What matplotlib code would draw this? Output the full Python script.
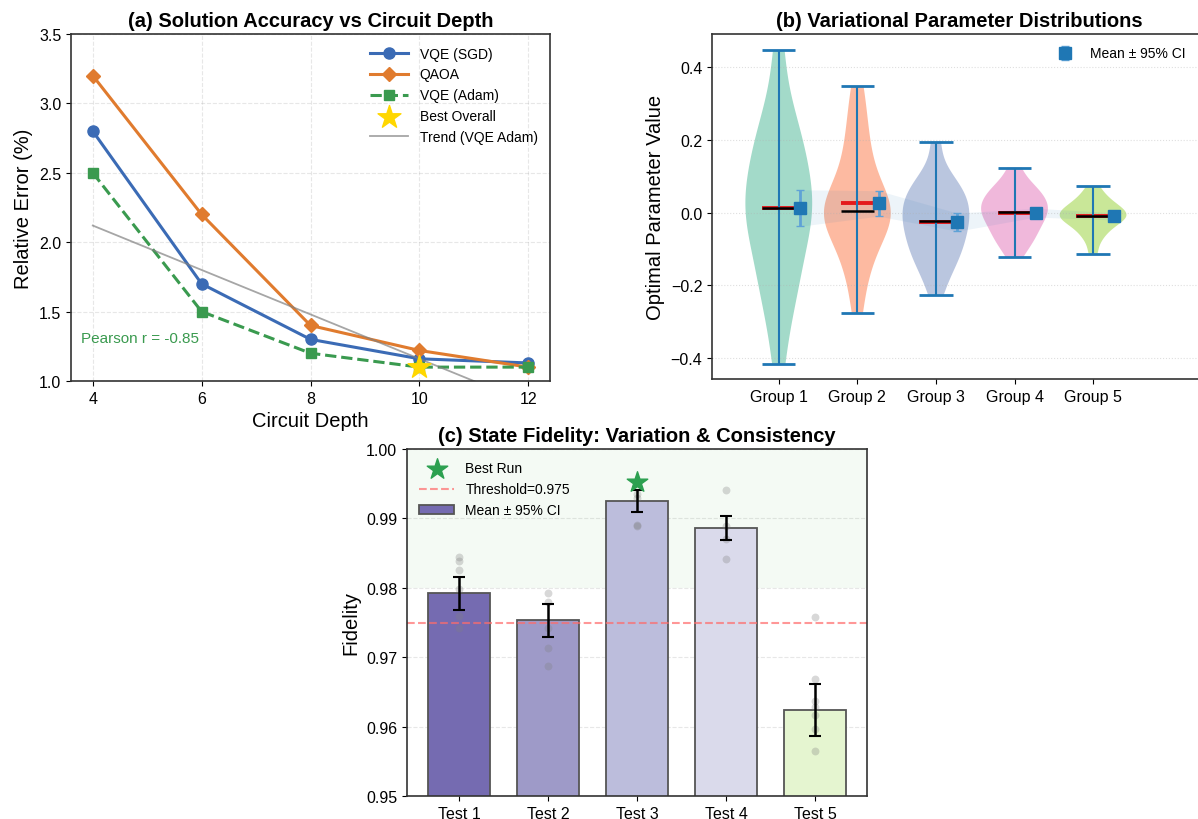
import numpy as np
import matplotlib.pyplot as plt

plt.rcParams['font.family'] = ['Liberation Sans', 'DejaVu Sans']
plt.rcParams['axes.edgecolor'] = '#333333'
plt.rcParams['axes.linewidth'] = 1.2
plt.rcParams['xtick.labelsize'] = 11.5
plt.rcParams['ytick.labelsize'] = 11.5

# (a) accuracy vs depth
depth = [4, 6, 8, 10, 12]
vqe_sgd = [2.8, 1.7, 1.3, 1.16, 1.13]
qaoa = [3.2, 2.2, 1.4, 1.22, 1.10]
vqe_adam = [2.5, 1.5, 1.2, 1.1, 1.1]
best_depth, best_err = 10, 1.1

# (b) parameter samples per group
groups = ['Group 1', 'Group 2', 'Group 3', 'Group 4', 'Group 5']
g1 = [-0.415, -0.3, -0.24, -0.2, -0.16, -0.12, -0.085, -0.05, -0.02, 0.0, 0.012,
      0.03, 0.06, 0.09, 0.12, 0.15, 0.18, 0.21, 0.25, 0.31, 0.447]
g2 = [-0.275, -0.19, -0.145, -0.11, -0.08, -0.055, -0.035, -0.018, -0.008, 0.0, 0.005,
      0.015, 0.03, 0.05, 0.075, 0.105, 0.14, 0.18, 0.225, 0.28, 0.348]
g3 = [-0.225, -0.175, -0.15, -0.13, -0.11, -0.095, -0.08, -0.065, -0.05, -0.035, -0.022,
      -0.008, 0.0, 0.015, 0.028, 0.042, 0.055, 0.07, 0.085, 0.11, 0.195]
g4 = [-0.122, -0.095, -0.08, -0.067, -0.055, -0.043, -0.032, -0.022, -0.012, -0.004, 0.003,
      0.01, 0.018, 0.026, 0.034, 0.043, 0.052, 0.062, 0.073, 0.088, 0.124]
g5 = [-0.113, -0.08, -0.062, -0.05, -0.04, -0.032, -0.025, -0.019, -0.014, -0.011, -0.009,
      -0.005, 0.0, 0.006, 0.012, 0.014, 0.022, 0.03, 0.04, 0.052, 0.072]
param_ci = [0.050, 0.035, 0.025, 0.012, 0.010]
violin_colors = ['#66c2a5', '#fc8d62', '#8da0cb', '#e78ac3', '#a6d854']

# (c) fidelity
tests = ['Test 1', 'Test 2', 'Test 3', 'Test 4', 'Test 5']
fid_mean = [0.9792, 0.9753, 0.9925, 0.9886, 0.9624]
fid_ci = [0.0024, 0.0024, 0.0016, 0.0017, 0.0038]
fid_runs = [[0.9845, 0.9839, 0.9826, 0.9798, 0.9760, 0.9742],
            [0.9793, 0.9780, 0.9742, 0.9713, 0.9688],
            [0.9952, 0.9935, 0.9930, 0.9890, 0.9889],
            [0.9941, 0.9889, 0.9870, 0.9842],
            [0.9758, 0.9669, 0.9637, 0.9628, 0.9617, 0.9596, 0.9565]]
bar_colors = ['#756bb1', '#9e9ac8', '#bcbddc', '#dadaeb', '#e5f5d0']
threshold = 0.975

fig = plt.figure(figsize=(11.98, 8.2), dpi=100)

# ---------- (a) ----------
ax1 = fig.add_axes([71/1198, 1-382/820, 479/1198, 347/820])
ax1.plot(depth, vqe_sgd, '-o', color='#3b6bb5', lw=2.2, ms=8, label='VQE (SGD)')
ax1.plot(depth, qaoa, '-D', color='#e07b2e', lw=2.2, ms=7.5, label='QAOA')
ax1.plot(depth, vqe_adam, '--s', color='#3a9a4f', lw=2.2, ms=7.5, label='VQE (Adam)')
ax1.scatter([best_depth], [best_err], marker='*', s=300, color='#FFD700', zorder=5, label='Best Overall')
coef = np.polyfit(depth, vqe_adam, 1)
xs = np.array([depth[0], depth[-1]])
ax1.plot(xs, np.polyval(coef, xs), color='gray', lw=1.3, alpha=0.7, label='Trend (VQE Adam)')
r = np.corrcoef(depth, vqe_adam)[0, 1]
ax1.text(3.79, 1.31, f'Pearson r = {r:.2f}', color='#3a9a4f', fontsize=11, va='center')
ax1.set_ylim(1.0, 3.5)
ax1.set_xticks(depth)
ax1.grid(True, ls='--', alpha=0.3)
ax1.set_xlabel('Circuit Depth', fontsize=14.5)
ax1.set_ylabel('Relative Error (%)', fontsize=14.5)
ax1.set_title('(a) Solution Accuracy vs Circuit Depth', fontsize=14.5, fontweight='bold')
ax1.legend(loc='upper right', frameon=False, fontsize=10, handlelength=2.8)

# ---------- (b) ----------
ax2 = fig.add_axes([712/1198, 1-380/820, 495/1198, 345/820])
samples = [g1, g2, g3, g4, g5]
pos = np.arange(1, 6)
vp = ax2.violinplot(samples, positions=pos, widths=0.85, showmeans=True, showmedians=True,
                    bw_method=0.45)
for body, c in zip(vp['bodies'], violin_colors):
    body.set_facecolor(c)
    body.set_edgecolor('none')
    body.set_alpha(0.6)
for k in ['cbars', 'cmins', 'cmaxes']:
    vp[k].set_color('#1f77b4')
    vp[k].set_linewidth(2 if k != 'cbars' else 1.5)
vp['cmeans'].set_color('#e41a1c')
vp['cmeans'].set_linewidth(2.8)
vp['cmedians'].set_color('black')
vp['cmedians'].set_linewidth(1.8)
means = np.array([np.mean(s) for s in samples])
ci = np.array(param_ci)
mx = pos + 0.27
ax2.fill_between(mx, means - ci, means + ci, color='#1f77b4', alpha=0.08, lw=0)
ax2.errorbar(mx, means, yerr=ci, fmt='s', color='#1f77b4', ms=9, ecolor='#5fa2d6',
             elinewidth=2, capsize=3, label='Mean ± 95% CI', zorder=4)
ax2.set_xticks(pos)
ax2.set_xticklabels(groups)
ax2.set_xlim(0.15, 6.45)
ax2.set_ylim(-0.457, 0.491)
ax2.set_yticks([-0.4, -0.2, 0.0, 0.2, 0.4])
ax2.grid(True, axis='y', ls=':', alpha=0.4)
ax2.set_ylabel('Optimal Parameter Value', fontsize=14.5)
ax2.set_title('(b) Variational Parameter Distributions', fontsize=14.5, fontweight='bold')
ax2.legend(loc='upper right', bbox_to_anchor=(0.982, 1.0), frameon=False, fontsize=10)

# ---------- (c) ----------
ax3 = fig.add_axes([407/1198, 1-797/820, 460/1198, 347/820])
xpos = np.arange(len(tests))
ax3.axhspan(0.98, 1.0, color='#2ca02c', alpha=0.05, lw=0)
ax3.bar(xpos, fid_mean, width=0.7, color=bar_colors, edgecolor='#555555', lw=1.3,
        label='Mean ± 95% CI', zorder=2)
ax3.errorbar(xpos, fid_mean, yerr=fid_ci, fmt='none', ecolor='black', elinewidth=1.8,
             capsize=4, capthick=1.5, zorder=4)
for i, runs in enumerate(fid_runs):
    ax3.scatter([i] * len(runs), runs, s=32, color='gray', alpha=0.3, lw=0, zorder=3)
bi = int(np.argmax([max(rn) for rn in fid_runs]))
ax3.scatter([bi], [max(fid_runs[bi])], marker='*', s=240, color='#2ca050', zorder=5, label='Best Run')
ax3.axhline(threshold, color='#ff6b6b', ls='--', lw=1.5, alpha=0.7, label=f'Threshold={threshold}')
ax3.set_ylim(0.95, 1.0)
ax3.set_xticks(xpos)
ax3.set_xticklabels(tests)
ax3.grid(True, axis='y', ls='--', alpha=0.3)
ax3.set_axisbelow(True)
ax3.set_ylabel('Fidelity', fontsize=14.5)
ax3.set_title('(c) State Fidelity: Variation & Consistency', fontsize=14.5, fontweight='bold')
h, l = ax3.get_legend_handles_labels()
order = [l.index('Best Run'), l.index(f'Threshold={threshold}'), l.index('Mean ± 95% CI')]
ax3.legend([h[o] for o in order], [l[o] for o in order], loc='upper left', frameon=False,
           fontsize=10, handlelength=2.5)

fig.savefig('out.png', dpi=100)
